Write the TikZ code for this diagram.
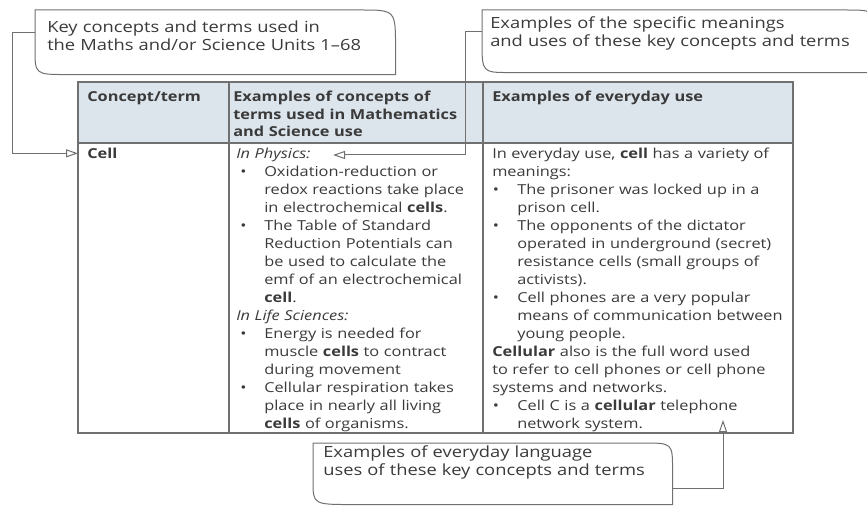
\documentclass[tikz,border=0pt]{standalone}
\usepackage{fontspec}
\setmainfont{Open Sans}[FakeStretch=1.19]
\usepackage{tikz}
\usetikzlibrary{arrows.meta,positioning,calc}
\definecolor{ink}{HTML}{3A3A3A}
\definecolor{rule}{HTML}{707070}
\definecolor{headfill}{HTML}{DCE4EC}
\newlength\bhang
\newlength\boff
\newcommand\bitem[1]{\par\noindent\hangindent=\bhang\hangafter=1\makebox[\bhang][l]{\hspace{\boff}\textbullet}#1}
\tikzset{
every node/.style={inner ysep=0pt,text=ink,font=\fontsize{10.3}{13.5}\selectfont},
style1/.style={anchor=north west,align=left,font=\fontsize{11.55}{13.4}\selectfont},
style2/.style={anchor=base west,align=left,text width=270pt,font=\fontsize{10.3}{13.125}\selectfont\bfseries},
style3/.style={anchor=base west,align=left,text width=260pt},
bubble/.style={draw=rule,line width=0.75pt},
grid/.style={draw=rule,line width=0.8pt},
conn/.style={draw=rule,line width=0.75pt,->}
}

\begin{document}
\begin{tikzpicture}[x=0.75pt,y=-0.75pt,>={Triangle[open,length=9pt,width=6pt]}]
\useasboundingbox (0,0) rectangle (867,506);
\clip (0,0) rectangle (867,506);

% table
\fill[headfill] (78,82) rectangle (793,143);
\draw[grid] (78,82) rectangle (793,433);
\draw[grid] (78,143) -- (793,143);
\draw[grid] (229,82) -- (229,433);
\draw[grid] (483,82) -- (483,433);

\node[style2,inner xsep=6.75pt] (h1) at (78,102) {Concept/term};
\node[style2,inner xsep=3pt] (h2) at (229,102) {Examples of concepts of\\ terms used in Mathematics\\ and Science use};
\node[style2,inner xsep=6.75pt] (h3) at (483,102) {Examples of everyday use};

\node[style3,inner xsep=6.75pt,text width=100pt] (b1) at (78,158.5) {\textbf{Cell}};
\node[style3,inner xsep=5.25pt] (b2) at (229,158.5) {\setlength\bhang{21pt}\setlength\boff{3pt}%
\noindent\textit{In Physics:}
\bitem{Oxidation-reduction or\newline redox reactions take place\newline in electrochemical \textbf{cells}.}
\bitem{The Table of Standard\newline Reduction Potentials can\newline be used to calculate the\newline emf of an electrochemical\newline \textbf{cell}.}
\par\noindent\textit{In Life Sciences:}
\bitem{Energy is needed for\newline muscle \textbf{cells} to contract\newline during movement}
\bitem{Cellular respiration takes\newline place in nearly all living\newline \textbf{cells} of organisms.}\par};
\node[style3,inner xsep=6.75pt] (b3) at (483,158.5) {\setlength\bhang{18.75pt}\setlength\boff{0.5pt}%
\noindent In everyday use, \textbf{cell} has a variety of\newline meanings:
\bitem{The prisoner was locked up in a\newline prison cell.}
\bitem{The opponents of the dictator\newline operated in underground (secret)\newline resistance cells (small groups of\newline activists).}
\bitem{Cell phones are a very popular\newline means of communication between\newline young people.}
\par\noindent\textbf{Cellular} also is the full word used\newline to refer to cell phones or cell phone\newline systems and networks.
\bitem{Cell C is a \textbf{cellular} telephone\newline network system.}\par};

% callouts
\node[style1,inner xsep=9pt,text width=252pt,text height=16.5pt,text depth=31.5pt] (k1) at (35,10)
  {Key concepts and terms used in\\ the Maths and/or Science Units 1–68};
\node[style1,inner xsep=6pt,text width=282.75pt,text height=13.5pt,text depth=33pt] (k2) at (482,10)
  {Examples of the specific meanings\\ and uses of these key concepts and terms};
\node[style1,inner xsep=7.5pt,text width=254.25pt,text height=10.5pt,text depth=35.25pt] (k3) at (313,443)
  {Examples of everyday language\\ uses of these key concepts and terms};

\foreach \n/\a/\b/\c/\d in {k1/35/38/32/26,k2/30/30/28/32,k3/30/27/40/24}
  \draw[bubble] (\n.north west) -- ($(\n.north east)+(-\a,0)$) .. controls (\n.north east) .. ($(\n.north east)+(0,\b)$)
    -- (\n.south east) -- ($(\n.south west)+(\c,0)$) .. controls (\n.south west) .. ($(\n.south west)+(0,-\d)$) -- cycle;

\coordinate (phys) at (333,155);
\coordinate (cellc) at (723,420);
\draw[conn] ($(k1.north west)+(0,23)$) -- ++(-23,0) |- (b1.west);
\draw[conn] ($(k2.north west)+(0,22)$) -- ++(-17,0) |- (phys);
\draw[conn] ($(k3.north east)+(0,45)$) -| (cellc);
\end{tikzpicture}
\end{document}
